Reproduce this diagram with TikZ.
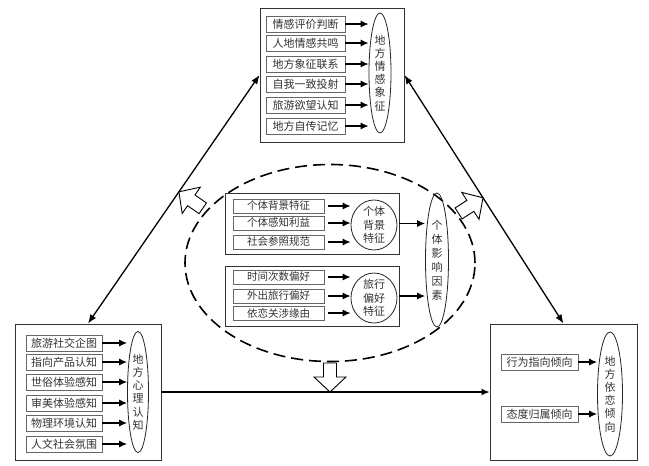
\documentclass[tikz,border=0pt]{standalone}
\usepackage{fontspec}
\newfontfamily\cjk{Noto Sans CJK SC}
\usetikzlibrary{shapes.geometric,arrows.meta,calc}
\begin{document}
\begin{tikzpicture}[x=1pt,y=-1pt,
  outer/.style={draw=black!80,line width=0.9pt,rectangle,inner sep=0pt},
  item/.style={draw=black!60,line width=0.7pt,rectangle,inner sep=0pt,minimum height=16pt,
    font=\cjk\fontsize{11}{12}\selectfont,text=black!80},
  sitem/.style={item,minimum width=91pt,minimum height=14pt,font=\cjk\fontsize{10.5}{12}\selectfont},
  ell/.style={ellipse,draw=black!85,line width=0.8pt,inner sep=-4pt,align=center,
    font=\cjk\fontsize{11}{13.2}\selectfont,text=black!80},
  arr/.style={-{Latex[length=8pt,width=7pt]},line width=1.2pt},
  darr/.style={{Latex[length=9pt,width=7pt]}-{Latex[length=9pt,width=7pt]},line width=1.3pt},
  holarrow/.pic={\draw[line width=0.9pt,fill=white,line join=miter]
     (0,0) -- (-15,16) -- (-15,6.5) -- (-29,6.5) -- (-29,-6.5) -- (-15,-6.5) -- (-15,-16) -- cycle;}
]
\useasboundingbox[fill=white] (0,0) rectangle (649,466);

% ---------- top box ----------
\node[outer,minimum width=144pt,minimum height=134pt] (T) at (332,75) {};
\foreach \t/\y [count=\i] in {情感评价判断/24,人地情感共鸣/43,地方象征联系/64,自我一致投射/84,旅游欲望认知/105,地方自传记忆/126}
  \node[item,minimum width=79pt] (t\i) at (305.5,\y) {\t};
\node[ell,minimum width=22pt,minimum height=120pt] (TE) at (380,73) {地\\方\\情\\感\\象\\征};
\foreach \i in {1,...,6} \draw[arr] (t\i.east) -- (t\i.east -| TE.west);

% ---------- bottom-left box ----------
\node[outer,minimum width=146pt,minimum height=136pt] (BL) at (88,392) {};
\foreach \t/\y [count=\i] in {旅游社交企图/343,指向产品认知/362,世俗体验感知/382,审美体验感知/403,物理环境认知/423,人文社会氛围/444}
  \node[item,minimum width=76pt] (l\i) at (64,\y) {\t};
\node[ell,minimum width=21pt,minimum height=121pt] (LE) at (138,392) {地\\方\\心\\理\\认\\知};
\foreach \i in {1,...,6} \draw[arr] (l\i.east) -- (l\i.east -| LE.west);

% ---------- bottom-right box ----------
\node[outer,minimum width=147pt,minimum height=136pt] (BR) at (563.5,392) {};
\node[item,minimum width=77pt] (r1) at (539.5,362) {行为指向倾向};
\node[item,minimum width=77pt] (r2) at (539.5,414) {态度归属倾向};
\node[ell,minimum width=25pt,minimum height=124pt] (RE) at (610,394) {地\\方\\依\\恋\\倾\\向};
\foreach \i in {1,2} \draw[arr] (r\i.east) -- (r\i.east -| RE.west);

% ---------- centre ----------
\node[ellipse,draw=black,line width=1.6pt,dash pattern=on 12pt off 6pt,
      minimum width=290pt,minimum height=197pt,inner sep=0pt] (D) at (330,263) {};
\node[outer,minimum width=174pt,minimum height=61pt] (G1) at (312,223.5) {};
\node[outer,minimum width=174pt,minimum height=60pt] (G2) at (312,296) {};
\foreach \t/\y [count=\i] in {个体背景特征/206,个体感知利益/223,社会参照规范/242}
  \node[sitem] (a\i) at (278.5,\y) {\t};
\foreach \t/\y [count=\i] in {时间次数偏好/277,外出旅行偏好/296,依恋关涉缘由/313}
  \node[sitem] (b\i) at (278.5,\y) {\t};
\node[ell,minimum width=46pt,minimum height=50pt] (E1) at (374,225) {个体\\背景\\特征};
\node[ell,minimum width=46pt,minimum height=50pt] (E2) at (374,298) {旅行\\偏好\\特征};
\node[ell,minimum width=23pt,minimum height=134pt,font=\cjk\fontsize{11}{14}\selectfont] (BE) at (437,260) {个\\体\\影\\响\\因\\素};
\foreach \i in {1,2,3} {
  \draw[arr,shorten <=4pt] (a\i.east) -- (a\i.east -| E1.west);
  \draw[arr,shorten <=4pt] (b\i.east) -- (b\i.east -| E2.west);
}
\draw[arr] (G1.east) -- (G1.east -| BE.west);
\draw[arr] (G2.east) -- (G2.east -| BE.west);

% ---------- main connectors ----------
\draw[darr] (T.west) -- (BL.north);
\draw[darr] (T.east) -- (BR.north);
\draw[arr,line width=1.3pt] (BL.east) -- (BR.west);

% ---------- hollow arrows ----------
\coordinate (hl) at ($(T.west)!0.47!(BL.north)$);
\coordinate (hr) at ($(T.east)!0.494!(BR.north)$);
\coordinate (hb) at (BL.east -| D.south);
\pic[rotate=145.4] at (hl) {holarrow};
\pic[rotate=32.6] at (hr) {holarrow};
\pic[rotate=-90] at (hb) {holarrow};
\end{tikzpicture}
\end{document}
